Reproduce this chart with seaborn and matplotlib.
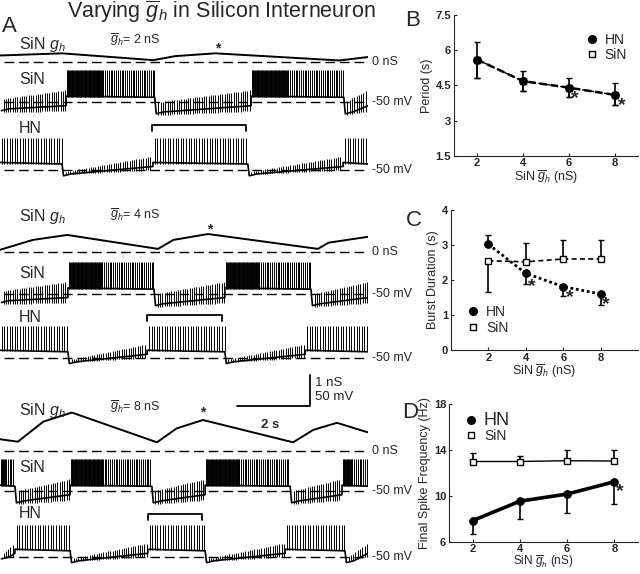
"""Varying g_h in a silicon interneuron: traces (A) and summary plots (B-D)."""

import matplotlib

matplotlib.use("Agg")

import matplotlib.pyplot as plt
import numpy as np
import pandas as pd
import seaborn as sns
from matplotlib.lines import Line2D

# ---- summary data (panels B-D) ----
gbar = [2, 4, 6, 8]

period_hn = [5.6, 4.68, 4.4, 4.09]
period_lo = [4.83, 4.27, 3.99, 3.65]
period_hi = [6.35, 5.11, 4.8, 4.58]
period_sin = [5.6, 4.68, 4.4, 4.09]

burst_hn = [3.02, 2.19, 1.81, 1.6]
burst_hn_bar = [3.3, 1.9, 1.54, 1.3]
burst_sin = [2.55, 2.52, 2.6, 2.6]
burst_sin_bar = [1.67, 3.07, 3.14, 3.14]

freq_hn = [7.86, 9.55, 10.17, 11.24]
freq_hn_bar = [6.7, 8.03, 8.48, 9.3]
freq_sin = [13.0, 13.0, 13.07, 13.04]
freq_sin_bar = [13.78, 13.46, 13.97, 14.03]

# ---- trace data (panel A), time in s, g_h in nS ----
gbar_labels = ["2 nS", "4 nS", "8 nS"]

gh_t_2 = [0, 1.7, 4.2, 4.8, 5.9, 9.3, 10.08]
gh_v_2 = [0.2, 0.27, 0.05, 0.18, 0.27, 0.04, 0.15]
gh_t_4 = [0, 0.9, 1.84, 4.33, 4.75, 5.7, 8.71, 9.0, 10.08]
gh_v_4 = [0.07, 0.39, 0.55, 0.1, 0.39, 0.58, 0.1, 0.3, 0.49]
gh_t_8 = [0, 0.49, 1.19, 1.97, 4.3, 4.84, 5.56, 8.03, 8.58, 9.23, 10.08]
gh_v_8 = [0.38, 0.3, 0.95, 1.24, 0.28, 0.73, 1.0, 0.28, 0.68, 0.91, 0.6]

sin_bursts_2 = [(1.81, 4.24), (6.88, 9.42)]
hn_bursts_2 = [(0, 1.7), (4.19, 6.79), (9.4, 10.08)]
sin_bursts_4 = [(1.86, 4.22), (6.16, 8.52)]
hn_bursts_4 = [(0, 1.86), (4.03, 6.16), (8.36, 10.08)]
sin_bursts_8 = [(0, 0.41), (1.92, 4.16), (5.62, 7.95), (9.37, 10.08)]
hn_bursts_8 = [(0.41, 1.92), (4.05, 5.62), (7.81, 9.45)]

brackets = [(4.16, 6.74), (4.03, 6.08), (4.05, 5.53)]
gh_peak_star = [(5.97, 0.44), (5.75, 0.74), (5.56, 1.23)]

scale_time = 2
scale_nS = 1

sin_rate_early, sin_rate_late, hn_rate, blip_rate = 45, 20, 14, 16

# ---- style ----
sns.set_style("ticks")
plt.rcParams["font.family"] = ["Liberation Sans", "DejaVu Sans"]
plt.rcParams["mathtext.fontset"] = "custom"
plt.rcParams["mathtext.rm"] = "Liberation Sans"
plt.rcParams["mathtext.it"] = "Liberation Sans:italic"
plt.rcParams["mathtext.bf"] = "Liberation Sans:bold"

PX_W, PX_H = 640, 574
UNIT_PX = 31.0      # 1 nS = 50 mV = 31 px
SEC_PX = 36.5       # 1 s = 36.5 px
T_END = 10.08
GBAR = r"$\overline{g}_h$"

fig = plt.figure(figsize=(6.4, 5.74), dpi=100)


def draw_cell(ax, level, bursts, kind):
    """Stylised membrane-potential trace: plateau + spikes in bursts, spikelets between."""
    if kind == "sin":
        plateau, trough, pre, a0, a1 = 0.19, -0.32, -0.12, 0.3, 0.5
    else:
        plateau, trough, pre, a0, a1 = 0.25, -0.12, 0.12, 0.05, 0.32
    top = 1.04

    phases, t = [], 0.0
    for s, e in bursts:
        if s > t:
            phases.append(("off", t, s))
        phases.append(("on", s, e))
        t = e
    if t < T_END:
        phases.append(("off", t, T_END))

    kt, kv, sp_t, sp_lo, sp_hi = [], [], [], [], []
    for i, (mode, s, e) in enumerate(phases):
        if mode == "on":
            kt += [s, e]
            kv += [level + plateau, level + plateau * 0.8]
            if kind == "sin":
                mid = s + 0.4 * (e - s)
                times = np.concatenate([np.arange(s + 0.02, mid, 1 / sin_rate_early),
                                        np.arange(mid, e, 1 / sin_rate_late)])
            else:
                times = np.arange(s + 0.05, e, 1 / hn_rate)
            for tt in times:
                sp_t.append(tt)
                sp_lo.append(level + plateau * 0.85)
                sp_hi.append(level + top)
        else:
            v0 = (trough + pre) / 2 if (i == 0 and s == 0) else trough
            kt += [s + 0.04, s + 0.25, e]
            kv += [level + v0 - 0.06, level + v0, level + pre]
            for tt in np.arange(s + 0.1, e - 0.02, 1 / blip_rate):
                f = (tt - s) / max(e - s, 1e-6)
                b = level + v0 + (pre - v0) * f
                a = a0 + (a1 - a0) * f
                sp_t.append(tt)
                sp_lo.append(b - 0.35 * a)
                sp_hi.append(b + a)
    ax.plot(kt, kv, color="k", lw=1.2)
    ax.vlines(sp_t, sp_lo, sp_hi, color="k", lw=0.7)


sections = [
    dict(base=61.7, sin=-1.3, hn=-3.5, ylim=(-3.95, 1.5), gt=gh_t_2, gv=gh_v_2,
         sb=sin_bursts_2, hb=hn_bursts_2, lab_y=(0.54, 0.7, -0.59, -2.14)),
    dict(base=252.0, sin=-1.35, hn=-3.42, ylim=(-3.95, 1.6), gt=gh_t_4, gv=gh_v_4,
         sb=sin_bursts_4, hb=hn_bursts_4, lab_y=(1.16, 1.19, -0.68, -2.1)),
    dict(base=451.0, sin=-1.29, hn=-3.42, ylim=(-3.95, 2.6), gt=gh_t_8, gv=gh_v_8,
         sb=sin_bursts_8, hb=hn_bursts_8, lab_y=(1.32, 1.42, -0.52, -2.0)),
]

for k, sec in enumerate(sections):
    ylo, yhi = sec["ylim"]
    ax = fig.add_axes([0, 1 - (sec["base"] - ylo * UNIT_PX) / PX_H,
                       T_END * SEC_PX / PX_W, (yhi - ylo) * UNIT_PX / PX_H])
    ax.set_xlim(0, T_END)
    ax.set_ylim(ylo, yhi)
    ax.axis("off")

    for lvl in (0, sec["sin"], sec["hn"]):
        ax.plot([0.12, 9.98], [lvl, lvl], color="k", lw=1.0, ls=(0, (7, 3.5)))
    ax.text(10.19, 0, "0 nS", fontsize=9, va="center", ha="left")
    ax.text(10.19, sec["sin"], "-50 mV", fontsize=9, va="center", ha="left")
    ax.text(10.19, sec["hn"], "-50 mV", fontsize=9, va="center", ha="left")

    ax.plot(sec["gt"], sec["gv"], color="k", lw=1.4)
    draw_cell(ax, sec["sin"], sec["sb"], "sin")
    draw_cell(ax, sec["hn"], sec["hb"], "hn")

    y_gh, y_gbar, y_sin, y_hn = sec["lab_y"]
    ax.text(0.52, y_gh, "SiN $g_h$", fontsize=11.5, va="center")
    ax.text(3.0, y_gbar, GBAR + "= " + gbar_labels[k], fontsize=9, va="center")
    ax.text(0.52, y_sin, "SiN", fontsize=11.5, va="center")
    ax.text(0.52, y_hn, "HN", fontsize=11.5, va="center")

    bs, be = brackets[k]
    yb = -2.04
    ax.plot([bs, bs, be, be], [yb - 0.2, yb, yb, yb - 0.2], color="k", lw=1.3)
    st, sy = gh_peak_star[k]
    ax.text(st, sy, "*", fontsize=10, fontweight="bold", ha="center", va="center")

    if k == 2:
        x1, y1 = 8.49, 1.45
        ax.plot([x1 - scale_time, x1, x1], [y1, y1, y1 + scale_nS], color="k", lw=1.3)
        ax.text(x1 + 0.14, y1 + 0.74, "1 nS", fontsize=9.5, va="center")
        ax.text(x1 + 0.14, y1 + 0.29, "50 mV", fontsize=9.5, va="center")
        ax.text(x1 - scale_time / 2 - 0.1, y1 - 0.6, "2 s", fontsize=9.5,
                fontweight="bold", ha="center", va="center")

fig.text(221 / PX_W, 1 - 12 / PX_H, "Varying " + GBAR + " in Silicon Interneuron",
         fontsize=15.5, ha="center", va="center")
fig.text(2 / PX_W, 1 - 26 / PX_H, "A", fontsize=16, va="center")
for letter, (px, py) in zip("BCD", [(413, 21), (414, 220), (410, 412)]):
    fig.text(px / PX_W, 1 - py / PX_H, letter, fontsize=16, ha="center", va="center")


# ---- panels B-D ----
def summary(ax, y_hn, bar_hn, y_sin, bar_sin, ls_hn, lw_hn, ls_sin, lw_sin):
    df = pd.DataFrame({"g": gbar, "hn": y_hn, "sin": y_sin})
    for y, bar in ((y_sin, bar_sin), (y_hn, bar_hn)):
        lo = [max(v - b, 0) for v, b in zip(y, bar)]
        hi = [max(b - v, 0) for v, b in zip(y, bar)]
        ax.errorbar(gbar, y, yerr=[lo, hi], fmt="none", ecolor="k", elinewidth=1.2,
                    capsize=2.5, capthick=1.0, zorder=2)
    sns.lineplot(data=df, x="g", y="sin", ax=ax, color="k", lw=lw_sin, ls=ls_sin,
                 marker="s", markersize=4.5, markerfacecolor="white",
                 markeredgecolor="k", markeredgewidth=1.0, zorder=3)
    sns.lineplot(data=df, x="g", y="hn", ax=ax, color="k", lw=lw_hn, ls=ls_hn,
                 marker="o", markersize=5.5, markeredgecolor="k", zorder=4)
    sns.despine(ax=ax)
    ax.tick_params(direction="in", length=2.5, width=0.8, labelsize=8, pad=2)
    ax.set_xticks(gbar)
    for lab in ax.get_xticklabels() + ax.get_yticklabels():
        lab.set_fontweight("bold")
    ax.set_xlabel("SiN " + GBAR + " (nS)", fontsize=9, labelpad=0)


def star(ax, x, y):
    ax.text(x, y, "*", fontsize=14, fontweight="bold", ha="center", va="center",
            zorder=5)


handles = [Line2D([], [], ls="none", marker="o", color="k", markersize=5.5),
           Line2D([], [], ls="none", marker="s", color="k", markerfacecolor="white",
                  markersize=4.5)]

axB = fig.add_axes([454 / PX_W, 1 - 155.7 / PX_H, 184 / PX_W, 140.7 / PX_H])
summary(axB, period_hn, period_lo, period_sin, period_lo, (0, (3, 1.5)), 1.8,
        "--", 1.0)
axB.errorbar(gbar, period_hn,
             yerr=[[0] * 4, [b - v for v, b in zip(period_hn, period_hi)]],
             fmt="none", ecolor="k", elinewidth=1.2, capsize=2.5, capthick=1.0)
axB.set_xlim(1, 9)
axB.set_ylim(1.5, 7.5)
axB.set_yticks([1.5, 3, 4.5, 6, 7.5])
axB.set_yticklabels(["1.5", "3", "4.5", "6", "7.5"], fontweight="bold")
axB.set_ylabel("Period (s)", fontsize=9, labelpad=2)
star(axB, 6.25, 3.95)
star(axB, 8.3, 3.65)
axB.legend(handles, ["HN", "SiN"], loc="center left", bbox_to_anchor=(0.69, 0.77),
           frameon=False, fontsize=10, handlelength=0.8, handletextpad=0.5,
           labelspacing=0.1, borderaxespad=0)

axC = fig.add_axes([451 / PX_W, 1 - 350 / PX_H, 187 / PX_W, 140 / PX_H])
summary(axC, burst_hn, burst_hn_bar, burst_sin, burst_sin_bar, (0, (1, 1)), 2.0,
        (0, (3, 2)), 1.2)
axC.set_xlim(0, 10)
axC.set_ylim(0, 4)
axC.set_yticks([0, 1, 2, 3, 4])
axC.set_yticklabels(["0", "1", "2", "3", "4"], fontweight="bold")
axC.set_ylabel("Burst Duration (s)", fontsize=9, labelpad=2)
for x, y in ((4.32, 1.8), (6.36, 1.49), (8.3, 1.3)):
    star(axC, x, y)
axC.legend(handles, ["HN", "SiN"], loc="center left", bbox_to_anchor=(0.06, 0.215),
           frameon=False, fontsize=10, handlelength=0.8, handletextpad=0.5,
           labelspacing=0.1, borderaxespad=0)

axD = fig.add_axes([449 / PX_W, 1 - 542 / PX_H, 189 / PX_W, 138 / PX_H])
summary(axD, freq_hn, freq_hn_bar, freq_sin, freq_sin_bar, "-", 2.6, "-", 1.0)
axD.set_xlim(1, 9)
axD.set_ylim(6, 18)
axD.set_yticks([6, 10, 14, 18])
axD.set_yticklabels(["6", "10", "14", "18"], fontweight="bold")
axD.set_ylabel("Final Spike Frequency (Hz)", fontsize=9, labelpad=2)
axD.set_xlabel("SiN " + GBAR + " (nS)", fontsize=8.5, labelpad=-0.5)
axD.tick_params(axis="x", pad=1.5)
star(axD, 8.25, 10.4)
legD = axD.legend(handles, ["HN", "SiN"], loc="center left",
                  bbox_to_anchor=(0.06, 0.83), frameon=False, fontsize=10,
                  handlelength=0.8, handletextpad=0.5, labelspacing=0.05,
                  borderaxespad=0)
legD.get_texts()[0].set_fontsize(13)

fig.savefig("out.png", dpi=100)
